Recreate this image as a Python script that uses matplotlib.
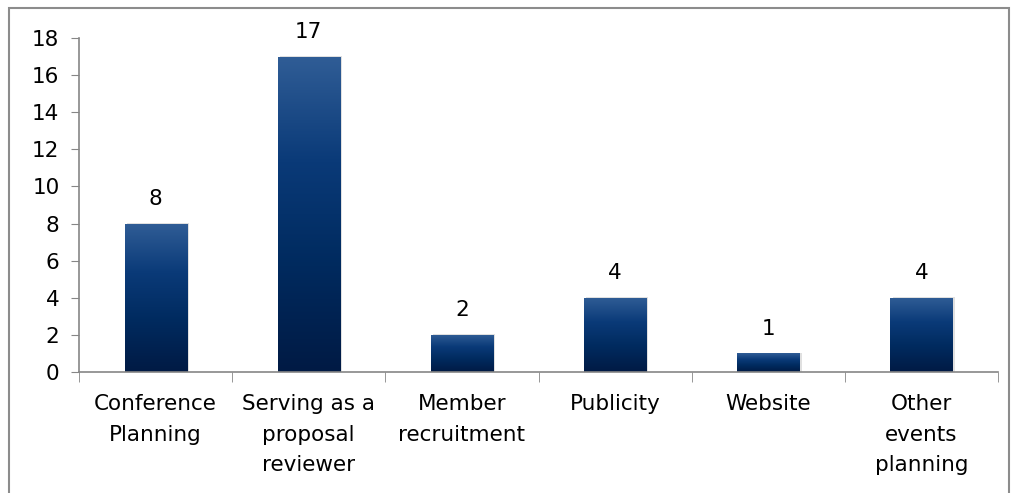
import numpy as np
import matplotlib.pyplot as plt
from matplotlib.colors import LinearSegmentedColormap
from matplotlib.patches import Rectangle

categories = ["Conference\nPlanning", "Serving as a\nproposal\nreviewer", "Member\nrecruitment",
              "Publicity", "Website", "Other\nevents\nplanning"]
values = [8, 17, 2, 4, 1, 4]

plt.rcParams["font.family"] = ["DejaVu Sans"]

fig = plt.figure(figsize=(10.13, 4.93), dpi=100)
ax = fig.add_axes([79 / 1013, 1 - 372 / 493, (998 - 79) / 1013, (372 - 38) / 493])

# outer chart border
fig.add_artist(Rectangle((9 / 1013, -0.01), (1009 - 9) / 1013, 1 - 8 / 493 + 0.01,
                         transform=fig.transFigure, fill=False, edgecolor="#8c8c8c", lw=1.5))

cmap = LinearSegmentedColormap.from_list("bar", ["#001a44", "#002a5e", "#0a3a78", "#305d96"])
grad = np.linspace(0, 1, 256).reshape(-1, 1)

x = np.arange(len(values))
width = 0.405
bars = ax.bar(x, values, width=width, color="none", edgecolor="none")
for bar, v in zip(bars, values):
    x0 = bar.get_x()
    # faint shadow
    ax.add_patch(Rectangle((x0 + 0.015, 0), width, v + 0.05, facecolor="#000000", alpha=0.12,
                           edgecolor="none", zorder=1))
    im = ax.imshow(grad, cmap=cmap, aspect="auto", origin="lower",
                   extent=(x0, x0 + width, 0, v), zorder=2)
    im.set_clip_path(bar)
    ax.text(bar.get_x() + width / 2, v + 0.8, str(v), ha="center", va="bottom",
            fontsize=15.5, color="#000000")

ax.set_xlim(-0.5, len(values) - 0.5)
ax.set_ylim(0, 18)
ax.set_yticks(range(0, 19, 2))
ax.set_xticks(x)
ax.set_xticklabels(categories, fontsize=15.5, linespacing=1.65, va="top")
ax.set_xticks(np.arange(-0.5, len(values), 1), minor=True)
ax.tick_params(axis="x", which="major", length=0, pad=16)
ax.tick_params(axis="x", which="minor", length=7, color="#868686", direction="out")
ax.tick_params(axis="y", length=6, color="#868686", labelsize=15.5, pad=8)

for s in ["top", "right"]:
    ax.spines[s].set_visible(False)
for s in ["left", "bottom"]:
    ax.spines[s].set_color("#868686")
    ax.spines[s].set_linewidth(1.2)

fig.savefig("out.png", dpi=100)
